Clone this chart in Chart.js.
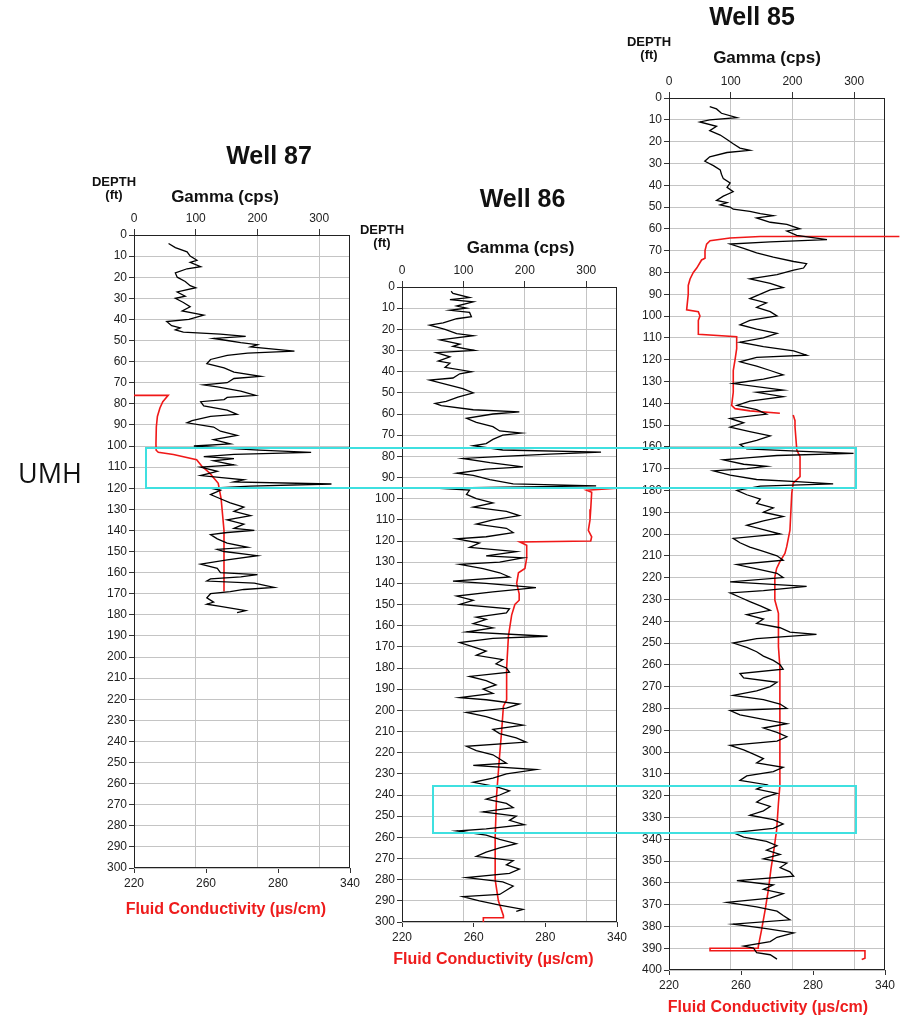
<!DOCTYPE html>
<html>
<head>
<meta charset="utf-8">
<script src="https://cdn.jsdelivr.net/npm/chart.js@4.4.1/dist/chart.umd.min.js"></script>
<style>
  html, body { margin: 0; padding: 0; background: #fff; }
  #page { position: relative; width: 905px; height: 1019px; overflow: hidden; }
  #page canvas { position: absolute; }
</style>
</head>
<body>
<div id="page"></div>
<script>
const condTicks = [220, 260, 280, 340];   // bottom axis labels, evenly spaced

// Well 87
const depth87 = [4,6,8,10,12,13,15,16,18,20,22,24,25,27,29,30,32,34,36,38,40,41,43,44,45,46,47,48,49,50,51,52,53,55,56,57,59,61,63,65,67,68,70,71,72,74,76,77,78,79,81,83,85,86,88,89,91,93,95,97,99,100,101,102,103,104,105,106,107,109,110,112,114,116,117,118,119,120,121,123,125,127,129,131,133,135,137,139,140,141,142,144,146,148,149,150,152,154,156,158,160,161,162,163,164,165,167,168,169,170,172,174,175,176,178,179];
const gamma87 = [56,67,86,91,102,91,108,86,67,70,83,91,100,70,83,67,80,91,78,113,89,53,61,75,67,80,140,181,129,151,173,200,189,260,184,151,124,118,146,162,205,162,151,113,135,173,197,151,146,108,113,151,167,124,94,86,129,140,167,129,156,97,146,203,287,162,113,162,129,162,108,135,108,178,162,320,189,124,140,124,140,156,178,162,189,151,178,162,195,151,124,135,151,184,135,146,200,151,108,135,140,200,173,124,118,195,227,178,156,124,118,129,118,140,181,167];
const condDepth87 = [76,76,79,82,86,91,99,102,103,104,106.5,109.5,113,117.7,125,140,169];
const cond87 = [220,239,236,234.4,233,232.4,232.2,232.3,233.5,241.9,254.8,257.6,261.1,263.4,264.2,265,265];

// Well 86
const depth86 = [2,3,5,6,7,9,10,11,12,14,15,17,18,20,22,23,25,27,28,30,31,33,35,36,38,40,41,43,44,46,48,50,52,54,55,56,58,59,60,62,64,66,68,69,70,72,74,75,77,78,79,80,81,83,85,86,88,89,91,93,94,95,96,98,100,102,104,106,108,110,112,114,116,118,119,121,123,125,127,128,130,131,133,135,137,139,140,142,144,146,148,150,152,154,156,157,159,161,163,165,166,168,170,172,174,176,178,180,182,184,186,188,190,192,194,195,197,199,201,203,205,207,209,211,213,215,217,219,221,223,225,226,228,230,232,234,236,238,240,242,244,246,248,250,252,254,256,257,259,261,263,265,267,269,271,273,275,277,279,281,283,285,287,288,290,292,294,295];
const gamma86 = [80,83,110,78,116,89,105,78,110,113,89,67,45,70,89,116,62,94,83,118,56,78,59,78,70,113,94,83,45,72,99,116,91,72,54,64,116,191,148,105,121,148,159,194,164,148,137,116,164,324,240,164,99,143,197,137,89,116,143,181,316,54,110,105,121,148,116,170,191,148,121,170,181,137,89,126,110,186,137,197,159,94,132,159,175,83,137,218,148,89,116,94,175,170,121,137,116,148,105,237,148,94,116,137,121,164,153,170,175,110,137,153,132,148,94,137,191,170,105,137,159,197,148,159,186,202,105,121,148,159,170,116,218,170,148,116,153,175,159,137,170,181,132,186,175,199,137,89,137,159,186,159,137,121,181,170,191,175,105,164,181,170,159,99,126,159,197,186];
const condDepth86 = [95,95,96,97,105,110,115,118,120,120.5,122,128,133,135,140,145,148,150,155,165,180,195,198,210,220,240,260,280,290,297,298,298,300];
const cond86 = [238.4,340,314.6,318.8,318,317.4,316,318.8,318,272.9,274.8,274.8,274.3,272.5,272,272.7,272.7,271.5,270.6,269.7,269.2,269.2,268.3,267.8,267.3,266.4,266,266,266.9,268.3,268.3,262.7,262.7];

// Well 85
const depth85 = [4,5,7,9,10,11,13,15,17,19,21,23,24,25,27,29,31,33,35,37,39,41,43,45,47,48,49,50,51,52,53,54,55,57,58,60,61,63,65,66,67,69,71,73,75,76,78,79,81,83,85,87,88,90,92,94,96,98,100,102,104,106,108,110,112,114,116,118,119,121,123,125,127,129,131,134,135,137,139,141,143,145,147,149,151,153,155,157,159,161,162,163,164,165,166,168,169,170,171,173,175,176,177,178,180,182,184,186,188,190,192,194,196,198,200,202,204,206,208,210,212,214,216,218,220,222,224,226,227,229,231,233,235,237,239,241,243,245,246,248,250,252,254,256,258,260,262,264,266,268,270,272,274,276,278,280,281,283,285,287,289,291,293,295,297,299,301,303,305,307,309,311,313,315,317,319,321,323,325,327,329,331,333,335,337,339,341,343,345,347,349,351,353,355,357,359,361,363,365,367,369,371,373,375,377,379,381,383,385,387,389,390,392,393,395];
const gamma85 = [66,77,85,110,66,50,77,66,83,94,104,115,131,94,66,58,72,83,85,88,99,94,104,88,77,94,83,99,104,131,148,169,142,164,191,212,191,207,256,164,99,121,142,169,202,223,218,202,175,131,164,185,164,148,131,158,142,164,175,131,115,142,175,153,115,153,202,223,142,115,142,164,185,153,104,185,142,185,131,110,142,158,99,121,99,131,164,142,115,126,207,299,175,131,88,121,158,126,72,99,142,207,266,148,110,126,148,142,169,153,185,153,126,153,180,104,115,131,153,175,185,110,142,175,185,99,223,153,99,115,131,148,164,126,153,142,180,196,239,142,104,126,142,153,169,180,185,115,121,175,164,142,104,153,180,191,99,115,153,191,153,175,191,175,99,121,137,153,142,185,169,126,115,158,142,175,153,142,164,153,131,169,185,169,104,121,158,175,158,180,153,191,180,196,202,110,169,153,185,164,94,142,175,185,196,104,158,202,175,164,121,137,142,164,175];
const condDepth85 = [63.5,63.5,64.2,65.5,67,70,73.5,74.3,78,80,83,86,90,97.2,98,100,102,108.4,109.5,115,120,125,130,135,141,142.5,143.5,144.6,null,145.4,148,150.8,161.5,164.5,173.7,176.7,181.3,198.2,205.8,208.9,212.7,215.8,219.6,230.3,236.4,242.5,251.7,260.9,315.5,323.5,335.8,346.5,354,363.3,372.5,381.7,389.3,390,390,391.2,391.2,394.6,395.2];
const cond85 = [352,265.3,253.9,242.8,240.9,240,240,238.1,235.4,233.5,231.7,230.7,230.7,229.8,236.3,237.2,236.3,236.3,257.6,257.6,256.7,255.7,255.7,255.7,254.8,256.7,262.5,270.8,null,274.5,275,275,275.5,276.4,276.4,274.5,274.1,273.6,272.7,272.2,270.8,269.9,269.4,269.4,270.4,270.4,270.4,270.8,270.8,270.4,269.9,269,268.3,267.6,266.7,265.7,264.8,264.8,242.8,242.8,323.3,323.3,320.6];

// highlighted zones, depths in Well 85 terms
const zoneTop85 = [160.5, 315.5];
const zoneBottom85 = [179, 337];
const zoneStartWell = [0, 1];
const zoneStartGamma = [20, 50];
const zoneEndGamma = [303, 303];

// ---- layout ----
const FONT = '"Liberation Sans", Arial, sans-serif';
const wells = [
  { title: 'Well 87', depth: depth87, gamma: gamma87, condDepth: condDepth87, cond: cond87, maxDepth: 300,
    box: { left: 134, top: 235, width: 216, height: 633 },
    text: { titleDx: 27, titleDy: -78, gammaDx: -17, gammaDy: -38, depthDy: -53, fluidDx: -16, fluidDy: 42 } },
  { title: 'Well 86', depth: depth86, gamma: gamma86, condDepth: condDepth86, cond: cond86, maxDepth: 300,
    box: { left: 402, top: 287, width: 215, height: 635 },
    text: { titleDx: 13, titleDy: -87, gammaDx: 11, gammaDy: -39, depthDy: -57, fluidDx: -16, fluidDy: 38 } },
  { title: 'Well 85', depth: depth85, gamma: gamma85, condDepth: condDepth85, cond: cond85, maxDepth: 400,
    box: { left: 669, top: 98, width: 216, height: 872 },
    text: { titleDx: -25, titleDy: -80, gammaDx: -10, gammaDy: -40, depthDy: -56, fluidDx: -9, fluidDy: 38 } }
];

const PAD_L = 45, PAD_R = 18, PAD_T = 100, PAD_B = 60, AXIS_H = 24;

// bottom axis is evenly spaced between the labelled values
function condPos(c) {
  if (c === null) return null;
  const n = condTicks.length;
  for (let i = 0; i < n - 1; i++) {
    if (c <= condTicks[i + 1] || i === n - 2) {
      return i + (c - condTicks[i]) / (condTicks[i + 1] - condTicks[i]);
    }
  }
}

const frame = {
  id: 'frame',
  beforeDatasetsDraw(chart) {
    const { ctx, chartArea: a } = chart;
    ctx.save();
    ctx.strokeStyle = '#222';
    ctx.lineWidth = 1;
    ctx.strokeRect(a.left + 0.5, a.top + 0.5, a.width - 1, a.height - 1);
    ctx.restore();
  }
};

const wellText = {
  id: 'wellText',
  afterDraw(chart, args, o) {
    const { ctx, chartArea: a } = chart;
    const cx = (a.left + a.right) / 2;
    ctx.save();
    ctx.textAlign = 'center';
    ctx.textBaseline = 'middle';
    ctx.fillStyle = '#111';
    ctx.font = 'bold 25px ' + FONT;
    ctx.fillText(o.title, cx + o.titleDx, a.top + o.titleDy);
    ctx.font = 'bold 17px ' + FONT;
    ctx.fillText('Gamma (cps)', cx + o.gammaDx, a.top + o.gammaDy);
    ctx.font = 'bold 13px ' + FONT;
    ctx.fillText('DEPTH', a.left - 20, a.top + o.depthDy);
    ctx.fillText('(ft)', a.left - 20, a.top + o.depthDy + 13);
    ctx.font = 'bold 16px ' + FONT;
    ctx.fillStyle = '#ee1c1c';
    ctx.fillText('Fluid Conductivity (\u00b5s/cm)', cx + o.fluidDx, a.bottom + o.fluidDy);
    ctx.restore();
  }
};

Chart.defaults.font.family = FONT;
Chart.defaults.font.size = 12;
Chart.defaults.color = '#222';

const page = document.getElementById('page');
const charts = wells.map(w => {
  const cv = document.createElement('canvas');
  cv.width = w.box.width + PAD_L + PAD_R;
  cv.height = w.box.height + PAD_T + PAD_B;
  cv.style.left = (w.box.left - PAD_L) + 'px';
  cv.style.top = (w.box.top - PAD_T) + 'px';
  page.appendChild(cv);

  const gammaPts = w.depth.map((d, i) => ({ x: w.gamma[i], y: d }));
  const condPts = w.condDepth.map((d, i) => ({ x: condPos(w.cond[i]), y: d }));

  return new Chart(cv.getContext('2d'), {
    type: 'scatter',
    data: {
      datasets: [
        { label: 'Gamma', data: gammaPts, showLine: true, borderColor: '#000', borderWidth: 1.3,
          pointRadius: 0, xAxisID: 'x', yAxisID: 'y' },
        { label: 'Fluid Conductivity', data: condPts, showLine: true, borderColor: '#f01818', borderWidth: 1.6,
          pointRadius: 0, xAxisID: 'x2', yAxisID: 'y', clip: false }
      ]
    },
    options: {
      responsive: false,
      animation: false,
      layout: { padding: { top: PAD_T - AXIS_H, bottom: PAD_B - AXIS_H, left: 0, right: PAD_R } },
      plugins: {
        legend: { display: false },
        tooltip: { enabled: false },
        wellText: Object.assign({ title: w.title }, w.text)
      },
      scales: {
        x: {
          type: 'linear', position: 'top', min: 0, max: 350,
          ticks: { stepSize: 100, includeBounds: false, padding: 3, maxRotation: 0 },
          grid: { color: '#c4c4c4', tickColor: '#333', tickLength: 6 },
          border: { display: false },
          afterFit: s => { s.height = AXIS_H; }
        },
        x2: {
          type: 'linear', position: 'bottom', min: 0, max: condTicks.length - 1,
          ticks: { stepSize: 1, padding: 3, maxRotation: 0, callback: (v, i) => condTicks[i] },
          grid: { drawOnChartArea: false, tickColor: '#333', tickLength: 5 },
          border: { display: false },
          afterFit: s => { s.height = AXIS_H; }
        },
        y: {
          type: 'linear', reverse: true, min: 0, max: w.maxDepth,
          ticks: { stepSize: 10, autoSkip: false, padding: 2 },
          grid: { color: '#c4c4c4', tickColor: '#333', tickLength: 5 },
          border: { display: false },
          afterFit: s => { s.width = PAD_L; }
        }
      }
    },
    plugins: [frame, wellText]
  });
});

// cyan zone boxes across the three logs
const ov = document.createElement('canvas');
ov.width = 905; ov.height = 1019;
ov.style.left = '0px'; ov.style.top = '0px'; ov.style.pointerEvents = 'none';
page.appendChild(ov);
const octx = ov.getContext('2d');
const ref = charts[2];
function pageX(ch, v) { return ch.canvas.offsetLeft + ch.scales.x.getPixelForValue(v); }
function pageY(ch, v) { return ch.canvas.offsetTop + ch.scales.y.getPixelForValue(v); }
octx.strokeStyle = '#3fe0e0';
octx.lineWidth = 2;
zoneTop85.forEach((t, i) => {
  const x1 = pageX(charts[zoneStartWell[i]], zoneStartGamma[i]);
  const x2 = pageX(ref, zoneEndGamma[i]);
  const y1 = pageY(ref, t);
  const y2 = pageY(ref, zoneBottom85[i]);
  octx.strokeRect(Math.round(x1), Math.round(y1), Math.round(x2 - x1), Math.round(y2 - y1));
  if (i === 0) {
    octx.fillStyle = '#111';
    octx.font = '27px "Open Sans", "Liberation Sans", sans-serif';
    octx.textAlign = 'left';
    octx.textBaseline = 'middle';
    octx.fillText('UMH', 18, (y1 + y2) / 2 + 7);
  }
});
</script>
</body>
</html>
